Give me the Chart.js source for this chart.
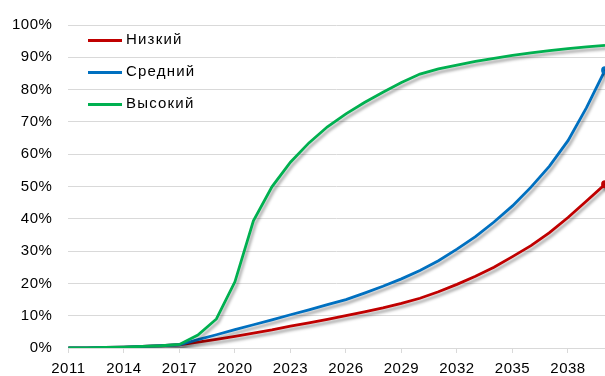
<!DOCTYPE html>
<html>
<head>
<meta charset="utf-8">
<script src="https://cdn.jsdelivr.net/npm/chart.js@4.4.1/dist/chart.umd.min.js"></script>
<style>
  body { margin: 0; background: #fff; }
  #wrap { position: relative; width: 605px; height: 376px; }
  #legend { position: absolute; left: 88px; top: 30px; font: 15px "Liberation Sans", Arial, sans-serif; color: #000; letter-spacing: 1.2px; }
  #legend div { height: 32px; display: flex; align-items: flex-start; }
  #legend span.sw { display: inline-block; width: 34px; height: 3px; margin-top: 9px; margin-right: 4px; }
</style>
</head>
<body>
<div id="wrap">
  <canvas id="chart" width="605" height="376"></canvas>
  <div id="legend"></div>
</div>
<script>
const years = [];
for (let y = 2011; y <= 2040; y++) years.push(String(y));

const seriesNames = ['Низкий', 'Средний', 'Высокий'];
const seriesColors = ['#C00000', '#0070C0', '#00B050'];

// values in %
const low = [0, 0, 0.2, 0.3, 0.5, 0.7, 1.0, 1.8, 2.7, 3.6, 4.6, 5.6, 6.8, 7.8, 8.9, 10.0,
  11.2, 12.4, 13.8, 15.4, 17.4, 19.7, 22.2, 25.0, 28.3, 31.7, 35.7, 40.4, 45.5, 50.7];
const mid = [0, 0, 0.2, 0.3, 0.5, 0.7, 1.0, 2.6, 4.1, 5.7, 7.2, 8.7, 10.3, 11.8, 13.4, 15.0,
  17.0, 19.1, 21.4, 24.0, 27.0, 30.6, 34.5, 39.0, 44.0, 49.8, 56.3, 64.2, 74.4, 86.0];
const high = [0, 0, 0.2, 0.3, 0.5, 0.7, 1.1, 4.0, 9.0, 20.5, 39.4, 49.9, 57.5, 63.5, 68.5, 72.5,
  76.0, 79.2, 82.2, 84.8, 86.4, 87.6, 88.7, 89.7, 90.6, 91.4, 92.1, 92.7, 93.2, 93.7];

const yTicks = [0, 10, 20, 30, 40, 50, 60, 70, 80, 90, 100];

const legendEl = document.getElementById('legend');
seriesNames.forEach((n, i) => {
  legendEl.innerHTML += `<div><span class="sw" style="background:${seriesColors[i]}"></span>${n}</div>`;
});

// Excel-like soft shadow under the lines
const shadowPlugin = {
  id: 'shadow',
  beforeLayout(chart) { chart.ctx.letterSpacing = '0.5px'; },
  beforeDatasetsDraw(chart) {
    const c = chart.ctx;
    c.save();
    c.shadowColor = 'rgba(0,0,0,0.35)';
    c.shadowBlur = 3;
    c.shadowOffsetX = 2;
    c.shadowOffsetY = 3;
  },
  afterDatasetsDraw(chart) { chart.ctx.restore(); }
};

const endPoint = n => years.map((_, i) => i === n - 1 ? 2.5 : 0);

new Chart(document.getElementById('chart'), {
  type: 'line',
  data: {
    labels: years,
    datasets: [low, mid, high].map((d, i) => ({
      label: seriesNames[i],
      data: d,
      borderColor: seriesColors[i],
      backgroundColor: seriesColors[i],
      borderWidth: 2.8,
      pointRadius: i < 2 ? endPoint(years.length) : 0,
      tension: 0,
      order: 3 - i,
    })),
  },
  options: {
    responsive: false,
    animation: false,
    layout: { autoPadding: false, padding: { left: -4, right: 0, top: 24, bottom: -9 } },
    plugins: { legend: { display: false }, tooltip: { enabled: false } },
    scales: {
      x: {
        offset: false,
        grid: { display: true, drawOnChartArea: false, color: '#d9d9d9', tickLength: 5 },
        border: { color: '#d9d9d9' },
        afterBuildTicks: s => { s.ticks = s.ticks.filter((t, i) => i % 3 === 0); },
        ticks: {
          autoSkip: false, maxRotation: 0, color: '#000', padding: 7,
          font: { family: '"Liberation Sans", Arial', size: 15 },
        },
      },
      y: {
        min: 0, max: 100,
        afterBuildTicks: s => { s.ticks = yTicks.map(v => ({ value: v })); },
        grid: { color: '#d9d9d9', drawTicks: false },
        border: { display: false },
        ticks: {
          padding: 16, color: '#000',
          callback: v => v + '%',
          font: { family: '"Liberation Sans", Arial', size: 15 },
        },
      },
    },
  },
  plugins: [shadowPlugin],
});
</script>
</body>
</html>
